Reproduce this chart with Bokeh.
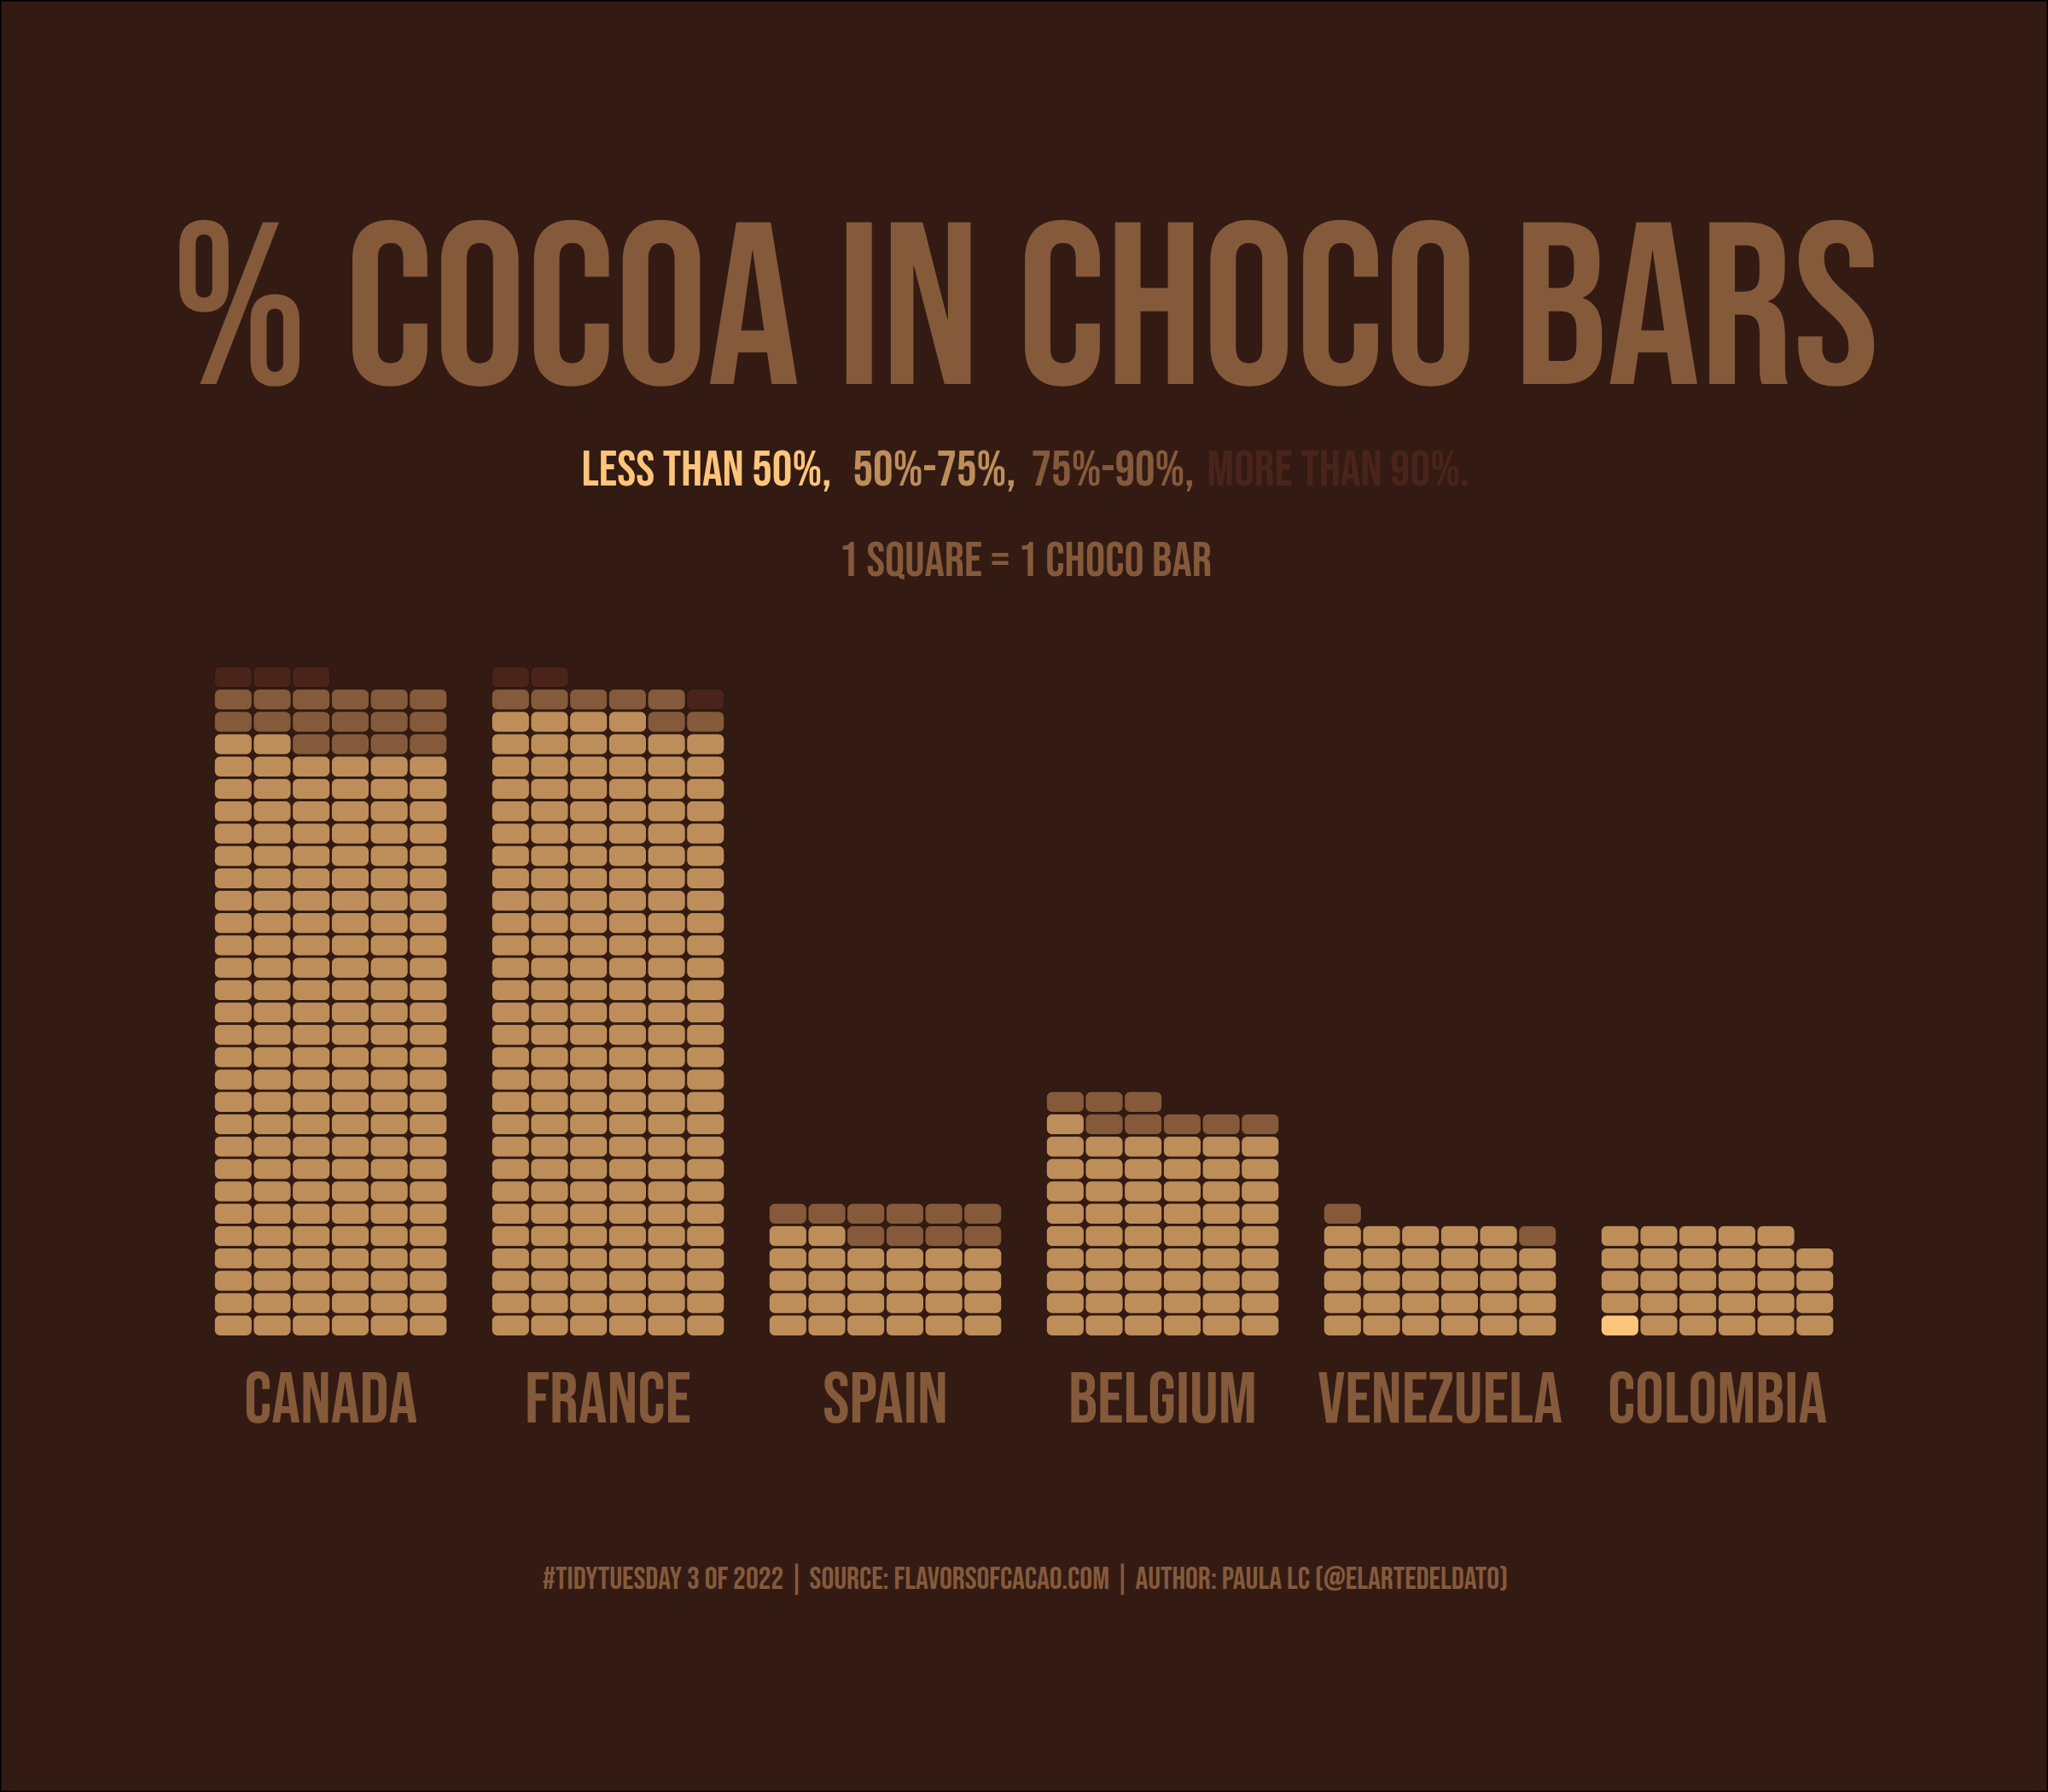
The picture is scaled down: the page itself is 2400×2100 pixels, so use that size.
from bokeh.plotting import figure
from bokeh.models import Range1d, ColumnDataSource
from bokeh.embed import file_html
from bokeh.resources import INLINE
from bokeh.core.properties import value

# ---------------- data ----------------
countries = ["CANADA", "FRANCE", "SPAIN", "BELGIUM", "VENEZUELA", "COLOMBIA"]
less_50 = [0, 0, 0, 0, 0, 1]
pct_50_75 = [158, 166, 26, 55, 29, 28]
pct_75_90 = [16, 7, 10, 8, 2, 0]
more_90 = [3, 3, 0, 0, 0, 0]
category_labels = ["LESS THAN 50%,", "50%-75%,", "75%-90%,", "MORE THAN 90%."]
category_colors = ["#fdc57b", "#be8e5a", "#845a3a", "#4a241a"]

title = "% COCOA IN CHOCO BARS"
unit_note = "1 SQUARE = 1 CHOCO BAR"
caption = "#TIDYTUESDAY 3 OF 2022 | SOURCE: FLAVORSOFCACAO.COM | AUTHOR: PAULA LC (@ELARTEDELDATO)"

# ---------------- style ----------------
BG = "#331b14"
TXT = "#855a3a"
FONT = "Bebas Neue"
W, H = 2400, 2100
N_COLS = 6

GROUP_LEFT0 = 250.7
GROUP_STEP = 325.0
PITCH_X = 45.7
CELL_W = 44.2
BASE_Y = 1565.0
PITCH_Y = 26.2
CELL_H = 24.4
BL = 0.306  # empirical baseline shift (fraction of font size)

p = figure(width=W, height=H, x_range=Range1d(0, W), y_range=Range1d(H, 0),
           output_backend="svg", toolbar_location=None, min_border=0)
p.axis.visible = False
p.xgrid.visible = False
p.ygrid.visible = False
p.background_fill_color = BG
p.border_fill_color = BG
p.outline_line_color = "#000000"
p.outline_line_width = 2

# ---------------- waffles ----------------
L, R, T, B, C = [], [], [], [], []
for g, counts in enumerate(zip(less_50, pct_50_75, pct_75_90, more_90)):
    i = 0
    gl = GROUP_LEFT0 + g * GROUP_STEP
    for k, n in enumerate(counts):
        for _ in range(n):
            r, c = divmod(i, N_COLS)
            left = gl + c * PITCH_X
            bottom = BASE_Y - r * PITCH_Y
            L.append(left)
            R.append(left + CELL_W)
            B.append(bottom)
            T.append(bottom - CELL_H)
            C.append(category_colors[k])
            i += 1

src = ColumnDataSource(dict(left=L, right=R, top=T, bottom=B, color=C))
p.quad(left="left", right="right", top="top", bottom="bottom", fill_color="color",
       line_color="#2b160f", line_width=1, border_radius=7, source=src)


def txt(x, y, s, size, color=TXT, align="center", font=FONT):
    p.text(x=x, y=[v - BL * size for v in y], text=s, text_font=value(font),
           text_font_size=f"{size}px", text_font_style="normal", text_color=color,
           text_align=align, text_baseline="alphabetic")


# ---------------- texts ----------------
txt([1201], [451], [title], 271)

sub_x = [681, 999, 1208, 1414]
for lbl, col, x in zip(category_labels, category_colors, sub_x):
    txt([x], [569], [lbl], 59, color=col, align="left")

txt([1201], [675], [unit_note], 58)

label_x = [GROUP_LEFT0 + g * GROUP_STEP + (N_COLS * PITCH_X - (PITCH_X - CELL_W)) / 2 for g in range(len(countries))]
txt(label_x, [1667] * len(countries), countries, 84)

txt([1201], [1862], [caption], 37)

open("out.html", "w").write(file_html(p, INLINE))
